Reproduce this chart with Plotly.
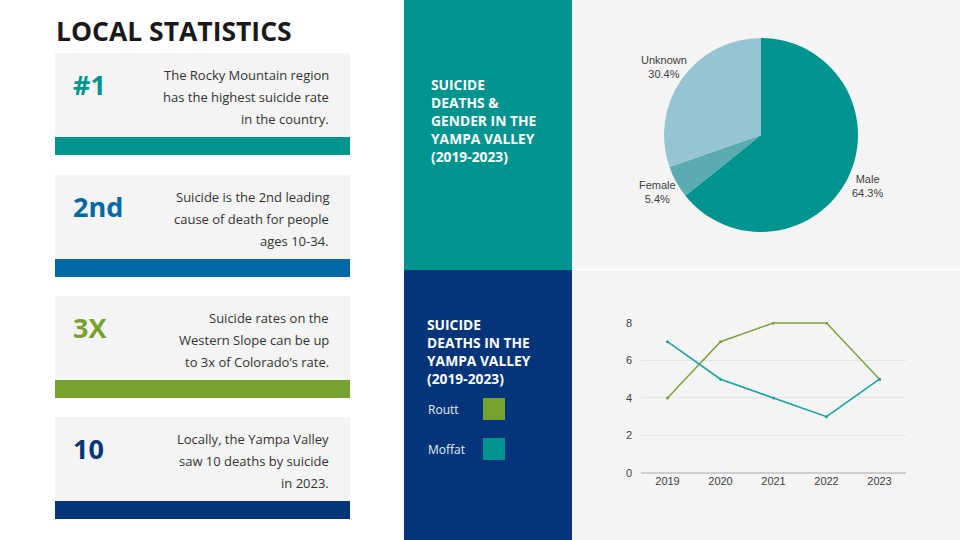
import math
import plotly.graph_objects as go

# ---------------- data ----------------
gender_labels = ["Male", "Female", "Unknown"]
gender_values = [64.3, 5.4, 30.4]
gender_colors = ["#009490", "#5aabb2", "#95c5d2"]

years = ["2019", "2020", "2021", "2022", "2023"]
routt = [4, 7, 8, 8, 5]
moffat = [7, 5, 4, 3, 5]
y_ticks = [0, 2, 4, 6, 8]

card_heads = ["#1", "2nd", "3X", "10"]
card_lines = [
    ["The Rocky Mountain region", "has the highest suicide rate", "in the country."],
    ["Suicide is the 2nd leading", "cause of death for people", "ages 10-34."],
    ["Suicide rates on the", "Western Slope can be up", "to 3x of Colorado\u2019s rate."],
    ["Locally, the Yampa Valley", "saw 10 deaths by suicide", "in 2023."],
]
card_colors = ["#009490", "#0068a5", "#78a22f", "#06367a"]

title_gender = ["SUICIDE", "DEATHS &", "GENDER IN THE", "YAMPA VALLEY", "(2019-2023)"]
title_deaths = ["SUICIDE", "DEATHS IN THE", "YAMPA VALLEY", "(2019-2023)"]
legend_names = ["Routt", "Moffat"]
legend_colors = ["#78a22f", "#009490"]

W, H = 960, 540
FONT = "Open Sans"
TEAL = "#009490"
NAVY = "#04357a"
GREEN_L = "#7ba33a"
TEAL_L = "#17a0a0"


def px(x):
    return x / W


def py(y):
    return 1 - y / H


fig = go.Figure()
shapes = []
ann = []

# ---- background panels ----
shapes.append(dict(type="rect", xref="paper", yref="paper", x0=px(572), x1=1, y0=0, y1=1,
                   fillcolor="#f4f4f4", line_width=0, layer="below"))
shapes.append(dict(type="rect", xref="paper", yref="paper", x0=px(404), x1=px(572), y0=py(270), y1=1,
                   fillcolor=TEAL, line_width=0, layer="below"))
shapes.append(dict(type="rect", xref="paper", yref="paper", x0=px(404), x1=px(572), y0=0, y1=py(270),
                   fillcolor=NAVY, line_width=0, layer="below"))
shapes.append(dict(type="line", xref="paper", yref="paper", x0=px(572), x1=1, y0=py(269.5), y1=py(269.5),
                   line=dict(color="#ffffff", width=1.5), layer="below"))

# ---- left title ----
ann.append(dict(x=px(54), y=py(31), xref="paper", yref="paper", xanchor="left", yanchor="middle",
                text="<b>LOCAL STATISTICS</b>", showarrow=False,
                font=dict(family=FONT, size=26.5, color="#1a1a1a")))

# ---- cards ----
card_tops = [53, 175, 296, 417]
for i, top in enumerate(card_tops):
    shapes.append(dict(type="rect", xref="paper", yref="paper", x0=px(55), x1=px(350),
                       y0=py(top + 84), y1=py(top), fillcolor="#f4f4f4", line_width=0, layer="below"))
    shapes.append(dict(type="rect", xref="paper", yref="paper", x0=px(55), x1=px(350),
                       y0=py(top + 102), y1=py(top + 84), fillcolor=card_colors[i], line_width=0,
                       layer="below"))
    ann.append(dict(x=px(71), y=py(top + 31), xref="paper", yref="paper", xanchor="left",
                    yanchor="middle", text="<b>" + card_heads[i] + "</b>", showarrow=False,
                    font=dict(family=FONT, size=27, color=card_colors[i])))
    for j, line in enumerate(card_lines[i]):
        ann.append(dict(x=px(331), y=py(top + 22 + 22 * j), xref="paper", yref="paper",
                        xanchor="right", yanchor="middle", text=line, showarrow=False,
                        font=dict(family=FONT, size=13, color="#333333")))

# ---- middle titles ----
ann.append(dict(x=px(429), y=py(120), xref="paper", yref="paper", xanchor="left",
                yanchor="middle", align="left",
                text="<br>".join("<b>" + t + "</b>" for t in title_gender), showarrow=False,
                font=dict(family=FONT, size=13.8, color="#ffffff")))
ann.append(dict(x=px(425), y=py(351), xref="paper", yref="paper", xanchor="left",
                yanchor="middle", align="left",
                text="<br>".join("<b>" + t + "</b>" for t in title_deaths), showarrow=False,
                font=dict(family=FONT, size=13.8, color="#ffffff")))

# ---- custom legend ----
for j, (name, col) in enumerate(zip(legend_names, legend_colors)):
    yc = 409 + 40 * j
    ann.append(dict(x=px(426), y=py(yc), xref="paper", yref="paper", xanchor="left", yanchor="middle",
                    text=name, showarrow=False, font=dict(family=FONT, size=12, color="#e8ecf4")))
    shapes.append(dict(type="rect", xref="paper", yref="paper", x0=px(483), x1=px(505),
                       y0=py(yc + 11), y1=py(yc - 11), fillcolor=col, line_width=0))

# ---- pie ----
cx, cy, r = 761, 135, 97
fig.add_trace(go.Pie(labels=gender_labels, values=gender_values, sort=False, direction="clockwise",
                     rotation=0, textinfo="none", hoverinfo="label+percent",
                     marker=dict(colors=gender_colors, line=dict(width=0)),
                     domain=dict(x=[px(cx - r), px(cx + r)], y=[py(cy + r), py(cy - r)]),
                     showlegend=False))
total = sum(gender_values)
cum = 0
for lab, v in zip(gender_labels, gender_values):
    f = (cum + v / 2) / total
    cum += v
    th = 2 * math.pi * f
    lx = cx + 1.22 * r * math.sin(th)
    ly = cy - 1.22 * r * math.cos(th)
    ann.append(dict(x=px(lx), y=py(ly), xref="paper", yref="paper", xanchor="center", yanchor="middle",
                    text=f"{lab}<br>{v:.1f}%", showarrow=False,
                    font=dict(family="Liberation Sans, Arial", size=11, color="#404040")))

# ---- line chart ----
fig.add_trace(go.Scatter(x=years, y=routt, mode="lines+markers", name="Routt",
                         line=dict(color=GREEN_L, width=1.5), marker=dict(size=3, color=GREEN_L),
                         showlegend=False))
fig.add_trace(go.Scatter(x=years, y=moffat, mode="lines+markers", name="Moffat",
                         line=dict(color=TEAL_L, width=1.5), marker=dict(size=3, color=TEAL_L),
                         showlegend=False))

fig.update_layout(
    width=W, height=H, autosize=False,
    margin=dict(l=0, r=0, t=0, b=0, pad=0, autoexpand=False),
    paper_bgcolor="#ffffff", plot_bgcolor="rgba(0,0,0,0)",
    shapes=shapes, annotations=ann,
    xaxis=dict(domain=[px(641), px(906)], type="category", range=[-0.5, 4.5], showgrid=False,
               showline=False, zeroline=False, ticks="", fixedrange=True, automargin=False,
               tickfont=dict(family="Liberation Sans, Arial", size=11, color="#404040")),
    yaxis=dict(domain=[py(473), py(322)], range=[0, 8.05], tickvals=y_ticks, showgrid=True,
               gridcolor="#e4e4e4", gridwidth=1, zeroline=True, zerolinecolor="#cfcfcf",
               zerolinewidth=1.5, showline=False, ticks="", ticklabelstandoff=8, automargin=False,
               fixedrange=True,
               tickfont=dict(family="Liberation Sans, Arial", size=11, color="#404040")),
)

post = ("document.body.style.margin='0';document.body.style.overflow='hidden';"
        "var gd=document.getElementById('{plot_id}');gd.style.position='fixed';"
        "gd.style.left='0px';gd.style.top='0px';")
fig.write_html("out.html", post_script=post, config={"displayModeBar": False})
